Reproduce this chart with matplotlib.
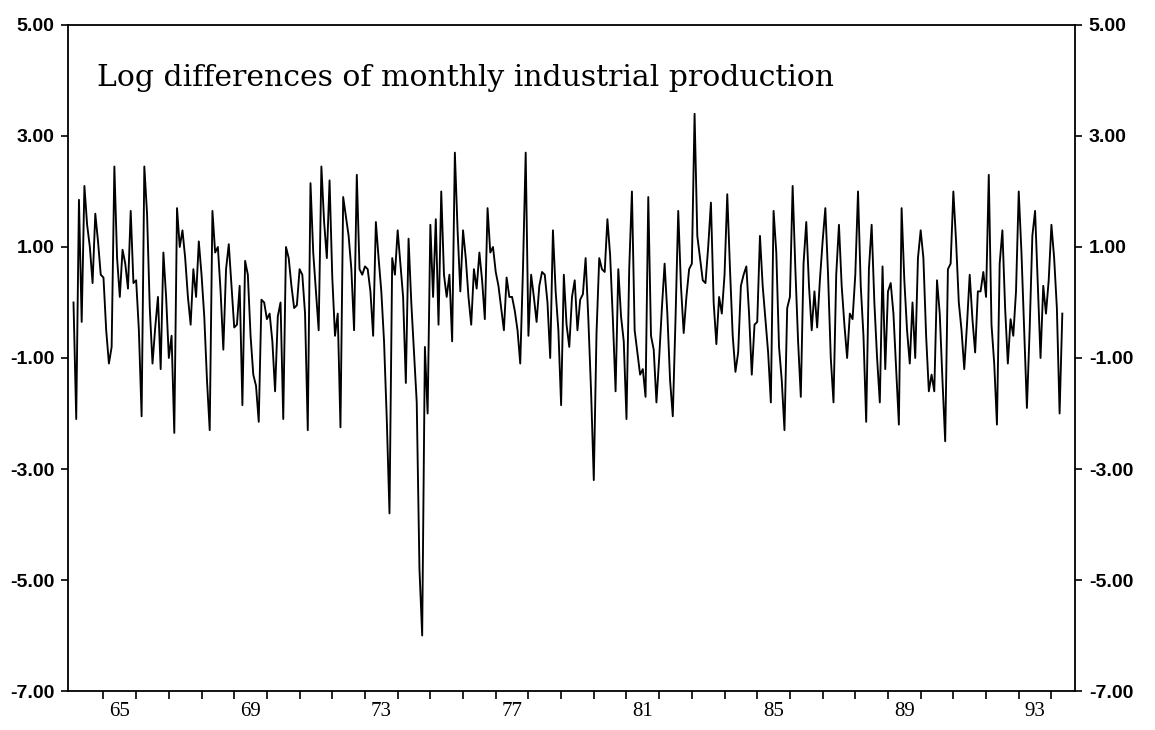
import numpy as np
import pandas as pd
import matplotlib
matplotlib.use('Agg')
import matplotlib.pyplot as plt

# --- Data: monthly log differences of industrial production ---
start_month = '1964-02'

vals_1964_1968 = [0.0, -2.1, 1.85, -0.35, 2.1, 1.4, 1.0, 0.35, 1.6, 1.1, 0.5, 0.45,
                  -0.5, -1.1, -0.8, 2.45, 0.8, 0.1, 0.95, 0.7, 0.25, 1.65, 0.35, 0.4,
                  -0.5, -2.05, 2.45, 1.6, -0.1, -1.1, -0.45, 0.1, -1.2, 0.9, 0.1, -1.0,
                  -0.6, -2.35, 1.7, 1.0, 1.3, 0.8, 0.1, -0.4, 0.6, 0.1, 1.1, 0.5,
                  -0.25, -1.4, -2.3]
vals_1968_1972 = [1.65, 0.9, 1.0, 0.2, -0.85, 0.6, 1.05, 0.3, -0.45, -0.4, 0.3, -1.85,
                  0.75, 0.5, -0.6, -1.3, -1.5, -2.15, 0.05, 0.0, -0.3, -0.2, -0.7, -1.6,
                  -0.25, 0.0, -2.1, 1.0, 0.8, 0.3, -0.1, -0.05, 0.6, 0.5, -0.2, -2.3,
                  2.15, 0.9, 0.2, -0.5, 2.45, 1.45, 0.8, 2.2, 0.45, -0.6, -0.2, -2.25,
                  1.9, 1.55, 1.2, 0.6]
vals_1972_1976 = [-0.5, 2.3, 0.6, 0.5, 0.65, 0.6, 0.2, -0.6, 1.45, 0.8, 0.2, -0.7,
                  -2.1, -3.8, 0.8, 0.5, 1.3, 0.7, 0.1, -1.45, 1.15, 0.0, -0.9, -1.8,
                  -4.8, -6.0, -0.8, -2.0, 1.4, 0.1, 1.5, -0.4, 2.0, 0.5, 0.1, 0.5,
                  -0.7, 2.7, 1.3, 0.2, 1.3, 0.8, 0.1, -0.4, 0.6, 0.25, 0.9, 0.4,
                  -0.3, 1.7, 0.9, 1.0]
vals_1977_1981 = [0.55, 0.3, -0.1, -0.5, 0.45, 0.1, 0.1, -0.15, -0.5, -1.1, 0.6, 2.7,
                  -0.6, 0.5, 0.1, -0.35, 0.3, 0.55, 0.5, 0.0, -1.0, 1.3, 0.2, -0.5,
                  -1.85, 0.5, -0.4, -0.8, 0.1, 0.4, -0.5, 0.05, 0.15, 0.8, -0.3, -1.6,
                  -3.2, -0.55, 0.8, 0.6, 0.55, 1.5, 0.85, -0.3, -1.6, 0.6, -0.25, -0.7,
                  -2.1, 0.6, 2.0, -0.5]
vals_1981_1985 = [-0.9, -1.3, -1.2, -1.7, 1.9, -0.6, -0.85, -1.8, -1.0, -0.1, 0.7, -0.2,
                  -1.4, -2.05, -0.3, 1.65, 0.3, -0.55, 0.1, 0.6, 0.7, 3.4, 1.2, 0.8,
                  0.4, 0.35, 1.0, 1.8, 0.0, -0.75, 0.1, -0.2, 0.5, 1.95, 0.6, -0.6,
                  -1.25, -0.9, 0.3, 0.5, 0.65, -0.2, -1.3, -0.4, -0.35, 1.2, 0.3, -0.3,
                  -0.9, -1.8, 1.65, 0.9]
vals_1985_1989 = [-0.8, -1.4, -2.3, -0.1, 0.1, 2.1, 0.6, -0.7, -1.7, 0.7, 1.45, 0.3,
                  -0.5, 0.2, -0.45, 0.4, 1.1, 1.7, 0.5, -1.0, -1.8, 0.5, 1.4, 0.3,
                  -0.4, -1.0, -0.2, -0.3, 0.5, 2.0, 0.3, -0.6, -2.15, 0.6, 1.4, 0.0,
                  -1.0, -1.8, 0.65, -1.2, 0.2, 0.35, -0.2, -1.2, -2.2, 1.7, 0.4, -0.5,
                  -1.1, 0.0, -1.0, 0.8]
vals_1990_1994 = [1.3, 0.8, -0.6, -1.6, -1.3, -1.6, 0.4, -0.2, -1.4, -2.5, 0.6, 0.7,
                  2.0, 1.1, 0.0, -0.5, -1.2, -0.4, 0.5, -0.3, -0.9, 0.2, 0.2, 0.55,
                  0.1, 2.3, -0.4, -1.1, -2.2, 0.7, 1.3, -0.1, -1.1, -0.3, -0.6, 0.2,
                  2.0, 0.9, -0.5, -1.9, -0.5, 1.2, 1.65, 0.3, -1.0, 0.3, -0.2, 0.4,
                  1.4, 0.8, -0.1, -2.0, -0.2]

title_text = 'Log differences of monthly industrial production'
y_ticks = [-7, -5, -3, -1, 1, 3, 5]
year_ticks = list(range(1965, 1995))
year_labels = ['65', '69', '73', '77', '81', '85', '89', '93']

# --- Build the series ---
values = (vals_1964_1968 + vals_1968_1972 + vals_1972_1976 + vals_1977_1981
          + vals_1981_1985 + vals_1985_1989 + vals_1990_1994)
dates = pd.date_range(start_month, periods=len(values), freq='MS')
t = dates.year + (dates.month - 1) / 12.0

plt.rcParams['axes.unicode_minus'] = False

fig = plt.figure(figsize=(11.55, 7.3), dpi=100)
ax = fig.add_axes([0.0593, 0.0534, 0.8714, 0.9124])

ax.plot(t, values, color='black', linewidth=1.35)

ax.set_xlim(1963.93, 1994.72)
ax.set_ylim(-7, 5)

# Y axis: ticks and labels on both sides
ax.set_yticks(y_ticks)
ax.set_yticklabels(['%.2f' % v for v in y_ticks])
ax.tick_params(axis='y', which='major', direction='out', length=5, width=1.2,
               left=True, right=True, labelleft=True, labelright=True, pad=5)
for lab in ax.get_yticklabels():
    lab.set_fontfamily('Liberation Sans')
    lab.set_fontweight('bold')
    lab.set_fontsize(14)

# X axis: a tick at each year, labels centred on every 4th year
ax.set_xticks(year_ticks)
ax.set_xticklabels([])
ax.set_xticks([int('19' + s) + 0.5 for s in year_labels], minor=True)
ax.set_xticklabels(year_labels, minor=True, fontfamily='Liberation Serif', fontsize=15)
ax.tick_params(axis='x', which='major', direction='out', length=6, width=1.2)
ax.tick_params(axis='x', which='minor', length=0, pad=8)

for spine in ax.spines.values():
    spine.set_linewidth(1.3)

fig.text(0.084, 1 - 86 / 730, title_text, fontfamily='DejaVu Serif', fontsize=21.5,
         va='baseline', ha='left')

fig.savefig('out.png', dpi=100)
plt.close(fig)
